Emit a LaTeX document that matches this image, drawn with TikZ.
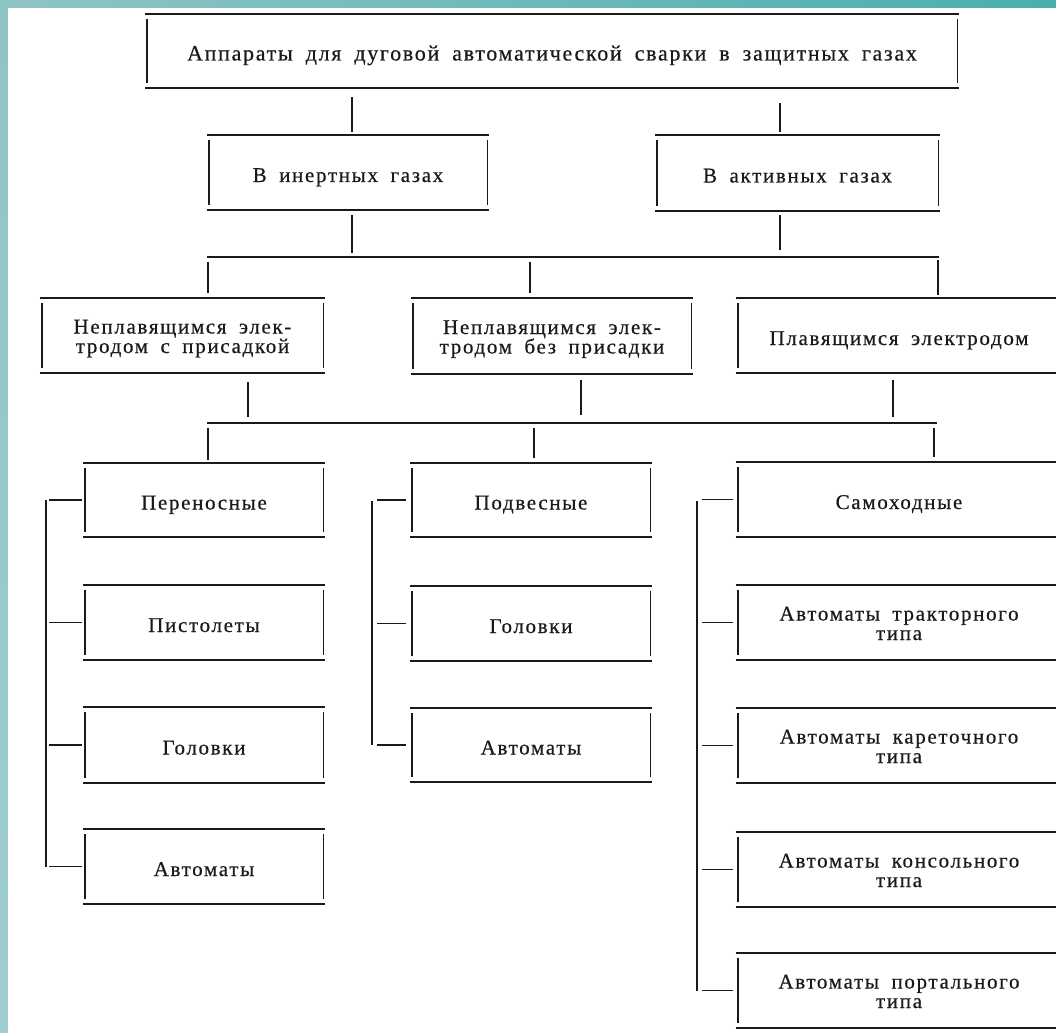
\documentclass[tikz,border=0pt]{standalone}
\usepackage{fontspec}
\setmainfont{Liberation Serif}[LetterSpace=8,WordSpace=1.8,FakeBold=0.5]
\definecolor{tealA}{HTML}{8FC4C4}
\definecolor{tealB}{HTML}{4AAEAE}
\definecolor{ink}{HTML}{1A1A1A}
\newcommand\drawbx[1]{%
  \draw[hl] ([xshift=-2pt]#1.north west) -- ([xshift=1.5pt]#1.north east);
  \draw[hl] ([xshift=-2pt]#1.south west) -- ([xshift=1.5pt]#1.south east);
  \draw[vl] ([yshift=-5pt]#1.north west) -- ([yshift=5pt]#1.south west);
  \draw[vl] ([yshift=-5pt]#1.north east) -- ([yshift=5pt]#1.south east);}
\begin{document}
\begin{tikzpicture}[x=1pt,y=-1pt,
  bx/.style={inner sep=0pt, align=center, text=ink, font=\fontsize{21}{19.5}\selectfont,
             text height=20pt, text depth=1pt},
  bxtwo/.style={bx, text height=37pt, text depth=2pt},
  hl/.style={draw=ink, line width=1.8pt},
  vl/.style={draw=ink, line width=1.4pt},
  cn/.style={draw=ink, line width=1.2pt}]
\useasboundingbox (0,0) rectangle (1056,1032);
\clip (0,0) rectangle (1056,1032);
\fill[white] (0,0) rectangle (1056,1032);
% frame strips
\shade[left color=tealA, right color=tealB] (0,0) rectangle (1056,7.5);
\shade[top color=tealA, bottom color=tealA!85!white] (0,0) rectangle (7.5,1032);

% boxes
\node[bx, font=\fontsize{21.9}{20}\selectfont, minimum width=810pt, minimum height=74pt] (top) at (552,51) {Аппараты для дуговой автоматической сварки в защитных газах};
\node[bx, minimum width=278pt, minimum height=75pt] (inert) at (348,172.5) {В инертных газах};
\node[bx, minimum width=281pt, minimum height=76pt] (active) at (797.5,173) {В активных газах};

\node[bxtwo, minimum width=281pt, minimum height=75pt] (L3a) at (182.5,335.5) {Неплавящимся элек-\\тродом с присадкой};
\node[bxtwo, minimum width=278pt, minimum height=76pt] (L3b) at (552,336) {Неплавящимся элек-\\тродом без присадки};
\node[bx, minimum width=322pt, minimum height=75pt] (L3c) at (899,335.5) {Плавящимся электродом};

\node[bx, minimum width=238pt, minimum height=74pt] (c1a) at (204,500) {Переносные};
\node[bx, minimum width=238pt, minimum height=75pt] (c1b) at (204,622.5) {Пистолеты};
\node[bx, minimum width=238pt, minimum height=75pt] (c1c) at (204,745) {Головки};
\node[bx, minimum width=238pt, minimum height=75pt] (c1d) at (204,866.5) {Автоматы};

\node[bx, minimum width=238pt, minimum height=74pt] (c2a) at (531,500) {Подвесные};
\node[bx, minimum width=238pt, minimum height=75pt] (c2b) at (531,623.5) {Головки};
\node[bx, minimum width=238pt, minimum height=74pt] (c2c) at (531,745) {Автоматы};

\node[bx, minimum width=322pt, minimum height=75pt] (c3a) at (899,499.5) {Самоходные};
\node[bxtwo, minimum width=322pt, minimum height=75pt] (c3b) at (899,622.5) {Автоматы тракторного\\типа};
\node[bxtwo, minimum width=322pt, minimum height=75pt] (c3c) at (899,745.5) {Автоматы кареточного\\типа};
\node[bxtwo, minimum width=322pt, minimum height=75pt] (c3d) at (899,869.5) {Автоматы консольного\\типа};
\node[bxtwo, minimum width=322pt, minimum height=75pt] (c3e) at (899,990.5) {Автоматы портального\\типа};

\foreach \n in {top,inert,active,L3a,L3b,L3c,c1a,c1b,c1c,c1d,c2a,c2b,c2c,c3a,c3b,c3c,c3d,c3e}{\drawbx{\n}}

% bus coordinates
\coordinate (b1w) at (207,257);
\coordinate (b1e) at (939,257);
\coordinate (b2w) at (207,423);
\coordinate (b2e) at (937,423);

% level 1 -> level 2
\draw[cn] ([xshift=4pt,yshift=-9pt]inert.north |- top.south) -- ([xshift=4pt,yshift=3pt]inert.north);
\draw[cn] ([xshift=-17.5pt,yshift=-15pt]active.north |- top.south) -- ([xshift=-17.5pt,yshift=3pt]active.north);

% level 2 -> bus 1
\draw[cn] ([xshift=4pt,yshift=-5pt]inert.south) -- ([xshift=4pt,yshift=4pt]inert.south |- b1w);
\draw[cn] ([xshift=-17.5pt,yshift=-4pt]active.south) -- ([xshift=-17.5pt,yshift=7pt]active.south |- b1w);
\draw[hl] (b1w) -- (b1e);

% bus 1 -> level 3
\draw[cn] ([xshift=25.5pt,yshift=-5pt]L3a.north |- b1w) -- ([xshift=25.5pt,yshift=5pt]L3a.north);
\draw[cn] ([xshift=-22pt,yshift=-5pt]L3b.north |- b1w) -- ([xshift=-22pt,yshift=5pt]L3b.north);
\draw[cn] ([xshift=39pt,yshift=-3pt]L3c.north |- b1w) -- ([xshift=39pt,yshift=3pt]L3c.north);

% level 3 -> bus 2
\draw[cn] ([xshift=65.5pt,yshift=-9pt]L3a.south) -- ([xshift=65.5pt,yshift=6pt]L3a.south |- b2w);
\draw[cn] ([xshift=29pt,yshift=-6pt]L3b.south) -- ([xshift=29pt,yshift=8pt]L3b.south |- b2w);
\draw[cn] ([xshift=-6pt,yshift=-7pt]L3c.south) -- ([xshift=-6pt,yshift=6pt]L3c.south |- b2w);
\draw[hl] (b2w) -- (b2e);

% bus 2 -> columns
\draw[cn] ([xshift=4pt,yshift=-5pt]c1a.north |- b2w) -- ([xshift=4pt,yshift=3pt]c1a.north);
\draw[cn] ([xshift=3pt,yshift=-5pt]c2a.north |- b2w) -- ([xshift=3pt,yshift=5pt]c2a.north);
\draw[cn] ([xshift=35pt,yshift=-5pt]c3a.north |- b2w) -- ([xshift=35pt,yshift=5pt]c3a.north);

% brackets
\coordinate (k1t) at (46,500);
\coordinate (k1b) at (46,867);
\coordinate (k2t) at (372,501);
\coordinate (k2b) at (372,745);
\coordinate (k3t) at (697,501);
\coordinate (k3b) at (697,991);
\draw[vl] (k1t) -- (k1b);
\draw[vl] (k2t) -- (k2b);
\draw[vl] (k3t) -- (k3b);
\foreach \n in {c1a,c1b,c1c,c1d}{\draw[cn] ([xshift=3pt]k1t |- \n.west) -- ([xshift=-3pt]\n.west);}
\foreach \n in {c2a,c2b,c2c}{\draw[cn] ([xshift=5pt]k2t |- \n.west) -- ([xshift=-6pt]\n.west);}
\foreach \n in {c3a,c3b,c3c,c3d,c3e}{\draw[cn] ([xshift=5pt]k3t |- \n.west) -- ([xshift=-5pt]\n.west);}
\end{tikzpicture}
\end{document}
